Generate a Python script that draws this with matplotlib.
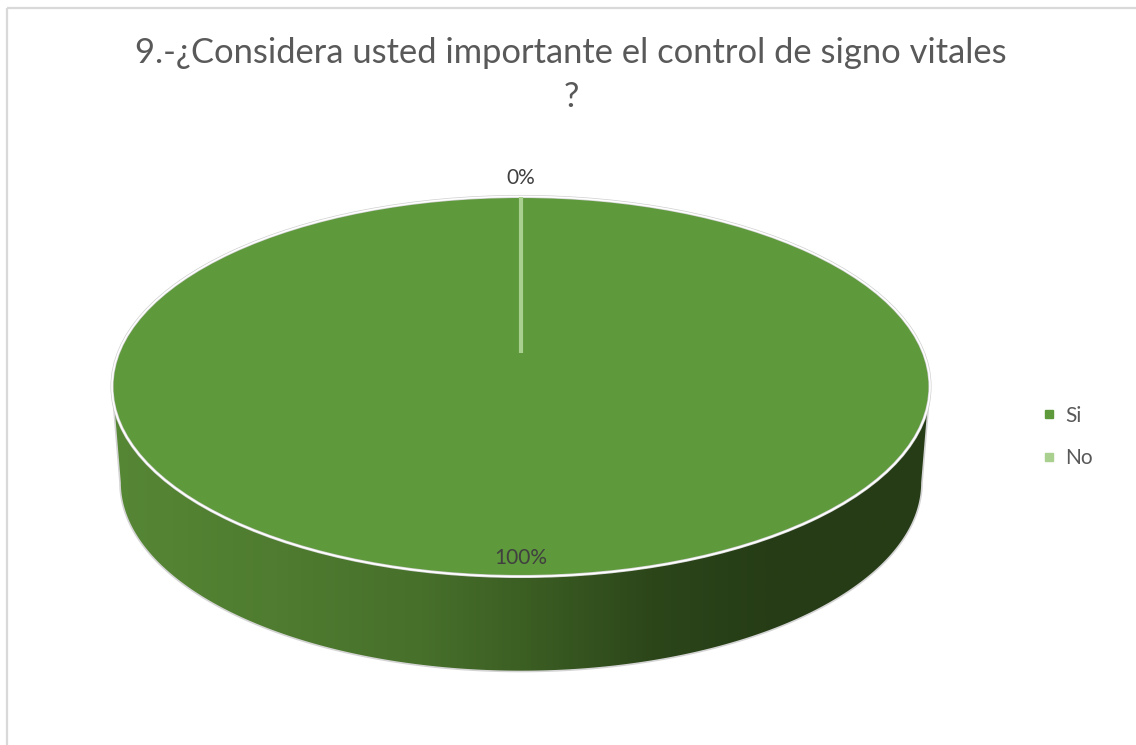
import numpy as np
import matplotlib
matplotlib.use('Agg')
import matplotlib.pyplot as plt
from matplotlib.transforms import Affine2D
from matplotlib.patches import Polygon, Rectangle, Ellipse
from matplotlib.colors import LinearSegmentedColormap
from matplotlib.lines import Line2D

# ---- data ----
categories = ['Si', 'No']
values = [100, 0]
title_line1 = '9.-¿Considera usted importante el control de signo vitales'
title_line2 = '?'

# ---- style / layout ----
W, H = 1136, 745
FONT = ['Lato', 'DejaVu Sans']
plt.rcParams['font.family'] = FONT
colors = ['#5E993B', '#A9D08E']
cx, cy, a, b = 521, 386.5, 409, 190          # top face ellipse
cy2, a2, b2 = cy + 96, 401, 189               # bottom ellipse (side depth)
proj_cy = cy - 34                              # projected pie centre

fig = plt.figure(figsize=(W / 100, H / 100), dpi=100)
ax = fig.add_axes([0, 0, 1, 1])

# ---- pie top face (library wedges squashed into an ellipse) ----
wedges, _ = ax.pie(values, colors=colors, startangle=90, counterclock=False,
                   radius=1, center=(0, 0), wedgeprops=dict(linewidth=0))
tr = Affine2D().scale(a, -b).translate(cx, cy) + ax.transData
for w in wedges:
    w.set_transform(tr)
    w.set_zorder(3)

# ---- side of the cylinder with gradient ----
t = np.linspace(0, np.pi, 300)
top_half = np.column_stack([cx + a * np.cos(t), cy + b * np.sin(t)])
bot_half = np.column_stack([cx + a2 * np.cos(t[::-1]), cy2 + b2 * np.sin(t[::-1])])
side_poly = Polygon(np.vstack([top_half, bot_half]), closed=True,
                    facecolor='none', edgecolor='#D4D4D4', lw=1.2, zorder=2)
ax.add_patch(side_poly)
side_cmap = LinearSegmentedColormap.from_list('side', [
    (0.00, '#568735'), (0.20, '#4F7C30'), (0.38, '#47702B'),
    (0.52, '#3A5C22'), (0.66, '#2C461A'), (0.80, '#263D16'), (1.00, '#263C16')])
grad = np.linspace(0, 1, 512)[None, :]
im = ax.imshow(grad, extent=(cx - a, cx + a, cy2 + b2, cy), aspect='auto',
               cmap=side_cmap, zorder=1.5, interpolation='bilinear')
im.set_clip_path(side_poly)

# rim highlight of top face
ax.add_patch(Ellipse((cx, cy), 2 * a, 2 * b, fill=False, edgecolor='#D0D0D0', lw=2.2, zorder=4))
ax.add_patch(Ellipse((cx, cy), 2 * a, 2 * b, fill=False, edgecolor='white', lw=1.2, zorder=4.1))

# ---- slice boundaries / labels from data ----
fracs = np.array(values, dtype=float) / np.sum(values)
start = 90.0
for i, f in enumerate(fracs):
    theta1 = start
    theta2 = start - 360 * f
    mid = np.deg2rad((theta1 + theta2) / 2)
    if f == 0:
        ang = np.deg2rad(theta1)
        ax.plot([cx, cx + a * np.cos(ang)], [proj_cy, cy - b * np.sin(ang)],
                color=colors[i], lw=3, solid_capstyle='butt', zorder=5)
        r = 1.1
    else:
        r = 0.9
    ax.text(cx + r * a * np.cos(mid), cy - r * b * np.sin(mid), f'{values[i]:.0f}%',
            ha='center', va='center', fontsize=15, color='#404040', zorder=6)
    start = theta2

# ---- title ----
ax.text(571, 63, title_line1, ha='center', va='baseline', fontsize=24.8, color='#595959', zorder=6)
ax.text(571, 107, title_line2, ha='center', va='baseline', fontsize=24.8, color='#595959', zorder=6)

# ---- legend ----
handles = [Line2D([], [], marker='s', linestyle='none', markersize=5.5,
                  markerfacecolor=c, markeredgecolor=c) for c in colors]
fig.legend(handles, categories, loc='center left', bbox_to_anchor=(1032 / W, 1 - 437 / H),
           frameon=False, fontsize=15, labelcolor='#595959', handlelength=0.6,
           handletextpad=0.5, labelspacing=1.1, borderpad=0)

# ---- chart frame ----
ax.add_patch(Rectangle((7, 8), W + 20, H + 20, fill=False, edgecolor='#D9D9D9', lw=1.6, zorder=0))

ax.set_xlim(0, W)
ax.set_ylim(H, 0)
ax.set_aspect('auto')
ax.axis('off')
fig.savefig('out.png', dpi=100, facecolor='white')
